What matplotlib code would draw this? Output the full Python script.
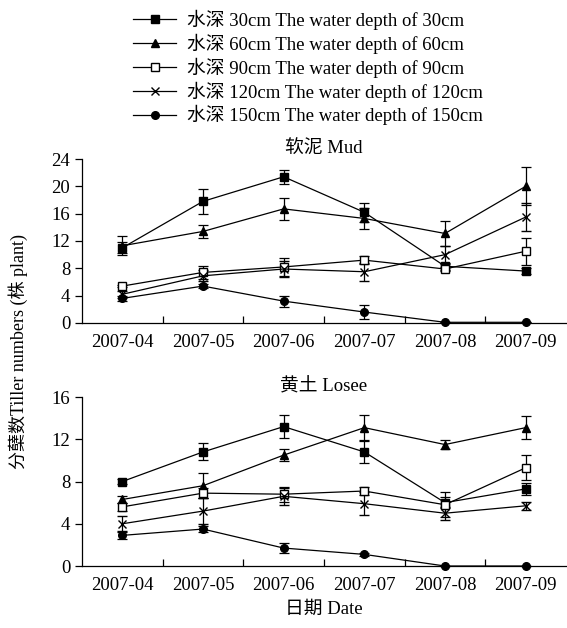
import numpy as np
import matplotlib
matplotlib.use('Agg')
import matplotlib.pyplot as plt
from matplotlib.lines import Line2D
from matplotlib.ticker import FixedLocator, NullFormatter

plt.rcParams['font.family'] = ['Liberation Serif', 'Noto Sans CJK SC']

dates = ['2007-04', '2007-05', '2007-06', '2007-07', '2007-08', '2007-09']
depths = ['30', '60', '90', '120', '150']

# Mud (软泥)
mud_30 = [11.0, 17.8, 21.4, 16.2, 8.3, 7.6]
mud_30_err = [0.8, 1.8, 1.0, 1.4, 0.5, 0.4]
mud_60 = [11.3, 13.4, 16.7, 15.3, 13.1, 20.0]
mud_60_err = [1.4, 0.9, 1.6, 1.6, 1.8, 2.8]
mud_90 = [5.4, 7.4, 8.2, 9.2, 7.9, 10.5]
mud_90_err = [0.2, 1.0, 1.3, 0.6, 0.3, 2.0]
mud_120 = [4.2, 6.9, 7.9, 7.5, 10.0, 15.5]
mud_120_err = [0.5, 0.8, 1.1, 1.3, 1.3, 2.0]
mud_150 = [3.6, 5.4, 3.2, 1.6, 0.1, 0.1]
mud_150_err = [0.4, 0.3, 0.8, 1.0, 0.0, 0.0]

# Losee (黄土)
los_30 = [8.0, 10.8, 13.2, 10.8, 6.0, 7.3]
los_30_err = [0.2, 0.8, 1.1, 1.0, 0.5, 0.6]
los_60 = [6.3, 7.6, 10.5, 13.1, 11.5, 13.1]
los_60_err = [0.3, 1.2, 0.6, 1.2, 0.4, 1.1]
los_90 = [5.6, 6.9, 6.8, 7.1, 5.8, 9.3]
los_90_err = [0.4, 0.5, 0.7, 0.4, 1.2, 1.2]
los_120 = [4.0, 5.2, 6.6, 5.9, 5.0, 5.7]
los_120_err = [0.7, 1.2, 0.8, 1.1, 0.6, 0.4]
los_150 = [2.9, 3.5, 1.7, 1.1, 0.0, 0.0]
los_150_err = [0.3, 0.3, 0.5, 0.15, 0.0, 0.0]

mud = [(mud_30, mud_30_err), (mud_60, mud_60_err), (mud_90, mud_90_err),
       (mud_120, mud_120_err), (mud_150, mud_150_err)]
losee = [(los_30, los_30_err), (los_60, los_60_err), (los_90, los_90_err),
         (los_120, los_120_err), (los_150, los_150_err)]

styles = [dict(marker='s', mfc='black', ms=5.5),
          dict(marker='^', mfc='black', ms=6),
          dict(marker='s', mfc='white', ms=5.5),
          dict(marker='x', mfc='black', ms=6, mew=1.0),
          dict(marker='o', mfc='black', ms=5.5)]

fs = 13.5
fig = plt.figure(figsize=(5.67, 6.28), dpi=100)
ax1 = fig.add_axes([0.1446, 0.4857, 0.8536, 0.2611])
ax2 = fig.add_axes([0.1446, 0.0987, 0.8536, 0.2691])

x = np.arange(len(dates))


def draw(ax, series, ymax, title):
    for (vals, errs), st in zip(series, styles):
        ax.errorbar(x, vals, yerr=errs, color='black', lw=0.9,
                    elinewidth=0.9, capsize=3.5, capthick=0.9,
                    mec='black', clip_on=False, **st)
    ax.set_xlim(-0.5, 5.5)
    ax.set_ylim(0, ymax)
    ax.set_yticks(np.arange(0, ymax + 1, 4))
    ax.set_xticks(x)
    ax.set_xticklabels(dates, fontsize=fs)
    ax.tick_params(axis='x', which='major', length=0, pad=8)
    ax.xaxis.set_minor_locator(FixedLocator(np.arange(0.5, 5, 1)))
    ax.xaxis.set_minor_formatter(NullFormatter())
    ax.tick_params(axis='x', which='minor', direction='in', length=5, width=0.9)
    ax.tick_params(axis='y', direction='out', length=5, width=0.9, labelsize=fs)
    for s in ['top', 'right']:
        ax.spines[s].set_visible(False)
    for s in ['left', 'bottom']:
        ax.spines[s].set_linewidth(0.9)
    ax.set_title(title, fontsize=fs, pad=4)


draw(ax1, mud, 24, '软泥 Mud')
draw(ax2, losee, 16, '黄土 Losee')

ax2.set_xlabel('日期 Date', fontsize=fs, labelpad=5)
fig.text(0.032, 0.44, '分蘖数Tiller numbers (株 plant)', rotation=90,
         ha='center', va='center', fontsize=13)

handles = [Line2D([], [], color='black', lw=0.9, mec='black', **st) for st in styles]
labels = [f'水深 {d}cm The water depth of {d}cm' for d in depths]
fig.legend(handles, labels, loc='upper left', bbox_to_anchor=(0.218, 1.0),
           frameon=False, fontsize=fs, handlelength=2.3, handletextpad=0.6,
           labelspacing=0.2, borderaxespad=0.1)

fig.savefig('out.png', dpi=100)
